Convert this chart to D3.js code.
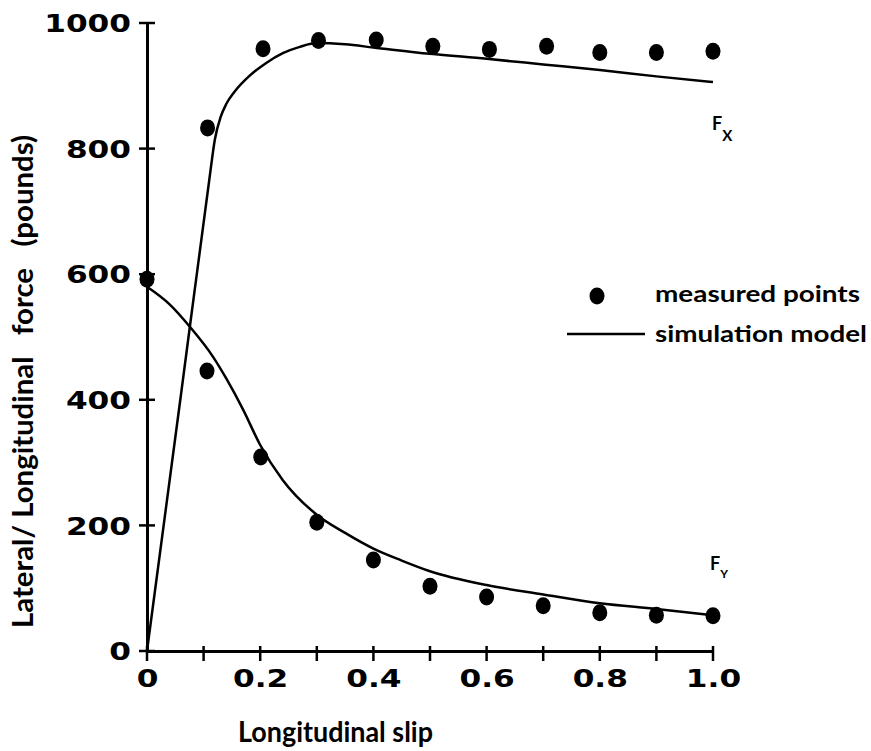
<!DOCTYPE html>
<html>
<head>
<meta charset="utf-8">
<script src="https://cdn.jsdelivr.net/npm/d3@7"></script>
<style>
  body { margin: 0; background: #fff; }
  svg { display: block; }
  text { fill: #000; }
</style>
</head>
<body>
<div class="container"></div>
<script>
const width = 871;
const height = 751;

// measured points
const fxSlip = [0.107, 0.205, 0.303, 0.405, 0.505, 0.605, 0.706, 0.8, 0.9, 1.0];
const fxMeasured = [833, 959, 972, 973, 963, 958, 963, 953, 953, 955];
const fySlip = [0, 0.106, 0.201, 0.3, 0.4, 0.5, 0.6, 0.7, 0.8, 0.9, 1.0];
const fyMeasured = [592, 446, 309, 205, 145, 103, 86, 72, 61, 57, 56];

// simulation model curves
const fxModelSlip = [0, 0.06, 0.11, 0.12, 0.13, 0.14, 0.155, 0.18, 0.21, 0.24, 0.27, 0.3, 0.35, 0.4, 0.5, 0.6, 0.7, 0.8, 0.9, 1.0];
const fxModel = [0, 408, 750, 815, 850, 871, 891, 915, 936, 952, 962, 968, 966, 961, 951, 943, 934, 925, 915, 906];
const fyModelSlip = [0, 0.04, 0.076, 0.117, 0.14, 0.17, 0.2, 0.24, 0.3, 0.35, 0.4, 0.45, 0.5, 0.6, 0.7, 0.8, 0.9, 1.0];
const fyModel = [580, 552, 516, 468, 434, 384, 328, 272, 217, 188, 163, 144, 127, 105, 90, 76, 67, 57];

const xTicks = [0, 0.1, 0.2, 0.3, 0.4, 0.5, 0.6, 0.7, 0.8, 0.9, 1.0];
const xTickLabels = ['0', '', '0.2', '', '0.4', '', '0.6', '', '0.8', '', '1.0'];
const yTicks = [0, 200, 400, 600, 800, 1000];

const x = d3.scaleLinear().domain([0, 1]).range([147, 713]);
const y = d3.scaleLinear().domain([0, 1000]).range([651, 23]);

const svg = d3.select('.container')
    .append('svg')
    .attr('width', width)
    .attr('height', height);

const numFont = "'DejaVu Sans', sans-serif";
const textFont = "Lato, 'Open Sans', sans-serif";

// y axis
const yAxis = svg.append('g')
    .attr('transform', 'translate(' + x(0) + ',0)')
    .call(d3.axisLeft(y).tickValues(yTicks).tickSize(0).tickSizeOuter(0).tickFormat(d3.format('d')));
yAxis.select('.domain').attr('stroke', '#000').attr('stroke-width', 3);
yAxis.selectAll('.tick text')
    .attr('transform', 'scale(1.3,1)')
    .attr('x', -16 / 1.3)
    .attr('dy', '0.36em')
    .style('font-family', numFont)
    .style('font-weight', 'bold')
    .style('font-size', '24px');

// x axis
const xAxis = svg.append('g')
    .attr('transform', 'translate(0,' + y(0) + ')')
    .call(d3.axisBottom(x).tickValues(xTicks).tickSize(0).tickSizeOuter(0).tickFormat((d, i) => xTickLabels[i]));
xAxis.select('.domain').attr('stroke', '#000').attr('stroke-width', 3);
xAxis.selectAll('.tick text')
    .attr('transform', 'scale(1.3,1)')
    .attr('x', 0)
    .attr('y', 36)
    .attr('dy', 0)
    .style('font-family', numFont)
    .style('font-weight', 'bold')
    .style('font-size', '24px');
svg.selectAll('.tick text').attr('fill', '#000');

// tick marks crossing the axes
svg.append('g').selectAll('line')
    .data(yTicks)
    .join('line')
    .attr('x1', x(0) - 8).attr('x2', x(0) + 8)
    .attr('y1', d => y(d)).attr('y2', d => y(d))
    .style('stroke', '#000')
    .style('stroke-width', '2.5px');
svg.append('g').selectAll('line')
    .data(xTicks)
    .join('line')
    .attr('x1', d => x(d)).attr('x2', d => x(d))
    .attr('y1', y(0) - 5).attr('y2', y(0) + 10)
    .style('stroke', '#000')
    .style('stroke-width', '2.5px');

// model curves
const line = d3.line()
    .x(d => x(d[0]))
    .y(d => y(d[1]))
    .curve(d3.curveMonotoneX);

svg.append('path')
    .datum(fxModelSlip.map((s, i) => [s, fxModel[i]]))
    .attr('d', line)
    .attr('fill', 'none')
    .attr('stroke', '#000')
    .attr('stroke-width', 2.5);

svg.append('path')
    .datum(fyModelSlip.map((s, i) => [s, fyModel[i]]))
    .attr('d', line)
    .attr('fill', 'none')
    .attr('stroke', '#000')
    .attr('stroke-width', 2.5);

// measured points
const pts = fxSlip.map((s, i) => [s, fxMeasured[i]])
    .concat(fySlip.map((s, i) => [s, fyMeasured[i]]));
svg.selectAll('ellipse.pt')
    .data(pts)
    .join('ellipse')
    .attr('class', 'pt')
    .attr('cx', d => x(d[0]))
    .attr('cy', d => y(d[1]))
    .attr('rx', 7.5)
    .attr('ry', 8.5)
    .attr('fill', '#000');

// curve labels
function curveLabel(px, py, main, sub, subSize, subDy) {
    const t = svg.append('text')
        .attr('x', px).attr('y', py)
        .style('font-family', textFont)
        .style('font-weight', 'bold')
        .style('font-size', '18px');
    t.append('tspan').text(main);
    t.append('tspan')
        .attr('dy', subDy)
        .style('font-size', subSize)
        .text(sub);
}
curveLabel(712, 130, 'F', 'X', '15px', 11);
curveLabel(710, 570, 'F', 'Y', '12px', 8);

// legend
svg.append('ellipse')
    .attr('cx', 597).attr('cy', 296)
    .attr('rx', 7.5).attr('ry', 8.5)
    .attr('fill', '#000');
svg.append('line')
    .attr('x1', 567).attr('x2', 645)
    .attr('y1', 334).attr('y2', 334)
    .attr('stroke', '#000').attr('stroke-width', 2.5);
svg.append('text')
    .attr('x', 655).attr('y', 302)
    .attr('textLength', 205)
    .attr('lengthAdjust', 'spacingAndGlyphs')
    .style('font-family', textFont)
    .style('font-weight', 'bold')
    .style('font-size', '23px')
    .text('measured  points');
svg.append('text')
    .attr('x', 655).attr('y', 342)
    .attr('textLength', 212)
    .attr('lengthAdjust', 'spacingAndGlyphs')
    .style('font-family', textFont)
    .style('font-weight', 'bold')
    .style('font-size', '23px')
    .text('simulation  model');

// axis titles
svg.append('text')
    .attr('x', 238).attr('y', 742)
    .attr('textLength', 195)
    .attr('lengthAdjust', 'spacingAndGlyphs')
    .style('font-family', textFont)
    .style('font-weight', 'bold')
    .style('font-size', '29px')
    .text('Longitudinal  slip');

svg.append('text')
    .attr('transform', 'translate(33,628) rotate(-90)')
    .attr('textLength', 493)
    .attr('lengthAdjust', 'spacingAndGlyphs')
    .style('font-family', textFont)
    .style('font-weight', 'bold')
    .style('font-size', '29px')
    .style('white-space', 'pre')
    .text('Lateral/ Longitudinal   force   (pounds)');
</script>
</body>
</html>
